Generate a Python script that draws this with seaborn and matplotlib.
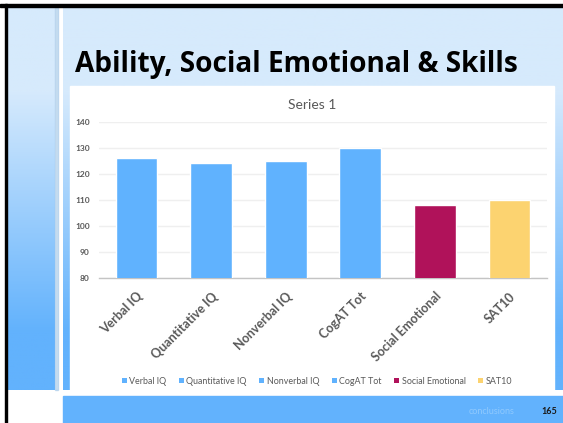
import numpy as np
import pandas as pd
import matplotlib
matplotlib.use("Agg")
import matplotlib.pyplot as plt
from matplotlib.patches import Rectangle, Patch
from matplotlib.colors import LinearSegmentedColormap
import seaborn as sns

# ---- data ----
categories = ["Verbal IQ", "Quantitative IQ", "Nonverbal IQ", "CogAT Tot",
              "Social Emotional", "SAT10"]
scores = [126, 124, 125, 130, 108, 110]
bar_colors = ["#60b2fe", "#60b2fe", "#60b2fe", "#60b2fe", "#b0125a", "#fcd370"]
y_ticks = [80, 90, 100, 110, 120, 130, 140]

slide_title = "Ability, Social Emotional & Skills"
chart_title = "Series 1"
footer_text = "conclusions"
page_number = "165"

sns.set_theme(style="white")
plt.rcParams["font.family"] = ["Lato", "DejaVu Sans"]

W, H = 563, 423
fig = plt.figure(figsize=(W / 100, H / 100), dpi=100)

# ---- slide background (pixel-space canvas) ----
bg = fig.add_axes([0, 0, 1, 1], zorder=0)
bg.set_xlim(0, W)
bg.set_ylim(H, 0)
bg.axis("off")

light = np.array([0xd6, 0xea, 0xfc]) / 255
dark = np.array([0x62, 0xb2, 0xfd]) / 255
grad = LinearSegmentedColormap.from_list(
    "slide", [(0, light), (0.22, light), (0.85, dark), (1, dark)])
g = np.linspace(0, 1, 400).reshape(-1, 1)
# main panel and left side panel with vertical gradient
bg.imshow(g, cmap=grad, aspect="auto", extent=(63, W, 390, 7), zorder=1)
bg.imshow(g, cmap=grad, aspect="auto", extent=(7, 55, 390, 7), zorder=1)
bg.add_patch(Rectangle((55, 7), 3, 383, color="#9cc3e6", alpha=0.55, zorder=2))
# frame lines
bg.add_patch(Rectangle((0, 4), W, 3, color="black", zorder=3))
bg.add_patch(Rectangle((5, 4), 2, H - 4, color="black", zorder=3))
# white chart card
bg.add_patch(Rectangle((70, 86), 484, 304, color="white", zorder=2))
# footer bar
bg.add_patch(Rectangle((63, 396), W - 63, H - 396, color="#62b2fd", zorder=2))

bg.text(75, 72, slide_title, fontsize=20.2, fontweight="bold", color="black",
        family=["Open Sans", "DejaVu Sans"], va="baseline", ha="left", zorder=4)
bg.text(312, 105, chart_title, fontsize=10, color="#595959",
        ha="center", va="center", zorder=4)
bg.text(492, 411, footer_text, fontsize=6.5, color="#8fc9fd",
        ha="center", va="center", zorder=4)
bg.text(549, 412, page_number, fontsize=6.5, color="#1a1a1a", fontweight="bold",
        ha="center", va="center", zorder=4)

# ---- bar chart ----
ax = fig.add_axes([99.3 / W, 1 - 277.7 / H, 447.4 / W, 156 / H], zorder=5)
ax.patch.set_alpha(0)
df = pd.DataFrame({"category": categories, "score": scores})
sns.barplot(data=df, x="category", y="score", hue="category",
            palette=bar_colors, width=0.56, legend=False, ax=ax, zorder=3,
            saturation=1)
ax.set_ylim(80, 140)
ax.set_yticks(y_ticks)
ax.set_xlim(-0.5, len(categories) - 0.5)
ax.set_xlabel("")
ax.set_ylabel("")
ax.grid(axis="y", color="#efefef", linewidth=1, zorder=0)
for s in ["top", "right", "left"]:
    ax.spines[s].set_visible(False)
ax.spines["bottom"].set_color("#c4c4c4")
ax.spines["bottom"].set_linewidth(1)
ax.tick_params(axis="y", length=0, pad=7, labelsize=6, labelcolor="#595959")
ax.tick_params(axis="x", length=0, pad=9, labelsize=9, labelcolor="#595959")
for lab in ax.get_yticklabels():
    lab.set_fontweight("bold")
ax.set_xticks(range(len(categories)))
ax.set_xticklabels(categories, rotation=45, ha="right", rotation_mode="anchor",
                   fontweight="bold")

handles = [Patch(facecolor=c, edgecolor="none") for c in bar_colors]
fig.legend(handles, categories, loc="center", ncol=6,
           bbox_to_anchor=(317 / W, 1 - 381 / H), frameon=False,
           fontsize=6.4, labelcolor="#595959", handlelength=0.55,
           handleheight=0.55, handletextpad=0.3, columnspacing=1.4)

fig.savefig("out.png", dpi=100)
